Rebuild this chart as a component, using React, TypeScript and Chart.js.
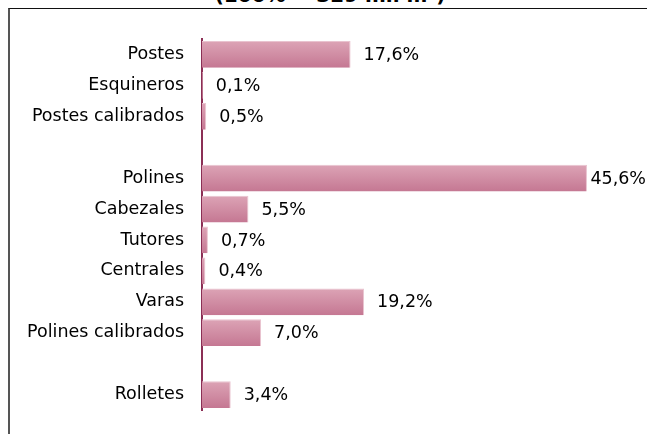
import React, { useEffect, useRef } from "react";
import { Chart, registerables } from "chart.js";

Chart.register(...registerables);

const categories: string[] = [
  "Postes",
  "Esquineros",
  "Postes calibrados",
  "",
  "Polines",
  "Cabezales",
  "Tutores",
  "Centrales",
  "Varas",
  "Polines calibrados",
  "",
  "Rolletes",
];

const shares: (number | null)[] = [17.6, 0.1, 0.5, null, 45.6, 5.5, 0.7, 0.4, 19.2, 7.0, null, 3.4];

const shareLabels: string[] = ["17,6%", "0,1%", "0,5%", "", "45,6%", "5,5%", "0,7%", "0,4%", "19,2%", "7,0%", "", "3,4%"];

const titleText = "(100% = 329 mil m³)";

const FONT = "'DejaVu Sans', sans-serif";

export default function App() {
  const ref = useRef<HTMLCanvasElement | null>(null);

  useEffect(() => {
    document.body.style.margin = "0";
    const canvas = ref.current;
    if (!canvas) return;

    const valueLabels = {
      id: "valueLabels",
      afterDatasetsDraw(chart: any) {
        const ctx = chart.ctx;
        const meta = chart.getDatasetMeta(0);
        ctx.save();
        ctx.font = `17.5px ${FONT}`;
        ctx.fillStyle = "#000";
        ctx.textBaseline = "middle";
        ctx.textAlign = "left";
        meta.data.forEach((bar: any, i: number) => {
          const t = shareLabels[i];
          if (!t) return;
          const w = ctx.measureText(t).width;
          const x = Math.min(bar.x + 13, chart.width - w - 1);
          ctx.fillText(t, x, bar.y + 1);
        });
        ctx.restore();
      },
    };

    const chart = new Chart(canvas, {
      type: "bar",
      data: {
        labels: categories,
        datasets: [
          {
            data: shares,
            backgroundColor: (c: any) => {
              const ch = c.chart;
              const ys = ch.scales && ch.scales.y;
              if (!ys || ys.top === undefined || !isFinite(ys.getPixelForValue(c.dataIndex))) return "#d393a8";
              const y = ys.getPixelForValue(c.dataIndex);
              const g = ch.ctx.createLinearGradient(0, y - 13, 0, y + 13);
              g.addColorStop(0, "#dca3b5");
              g.addColorStop(1, "#c57893");
              return g;
            },
            borderColor: "#e9c3cf",
            borderWidth: { top: 1, right: 1, bottom: 0, left: 0 },
            borderSkipped: false,
            barPercentage: 0.93,
            categoryPercentage: 0.93,
          },
        ],
      },
      options: {
        indexAxis: "y",
        animation: false,
        responsive: false,
        maintainAspectRatio: false,
        layout: { padding: { top: 39, bottom: 24, right: 6, left: 0 } },
        plugins: {
          legend: { display: false },
          tooltip: { enabled: false },
          title: { display: false },
        },
        scales: {
          x: {
            display: false,
            min: 0,
            max: 52,
          },
          y: {
            grid: { display: false, drawTicks: false },
            border: { display: true, color: "#8b2f55", width: 2 },
            ticks: {
              color: "#000",
              font: { family: FONT, size: 17.5 },
              padding: 18,
              autoSkip: false,
            },
            afterFit: (s: any) => {
              s.width = 202;
              s.paddingTop = 0;
              s.paddingBottom = 0;
            },
          },
        },
      },
      plugins: [valueLabels],
    } as any);

    return () => chart.destroy();
  }, []);

  return (
    <div style={{ position: "absolute", left: 0, top: 0, width: 647, height: 434, overflow: "hidden", background: "#fff" }}>
      <div
        style={{
          position: "absolute",
          left: 0,
          width: 660,
          top: -16,
          textAlign: "center",
          fontFamily: FONT,
          fontWeight: "bold",
          fontSize: 20,
          lineHeight: "22px",
          color: "#000",
        }}
      >
        {titleText}
      </div>
      <div
        style={{
          position: "absolute",
          left: 8,
          top: 8,
          width: 700,
          height: 500,
          borderTop: "1px solid #111",
          borderLeft: "2px solid #555",
        }}
      />
      <canvas ref={ref} width={647} height={434} style={{ position: "absolute", left: 0, top: 0 }} />
    </div>
  );
}
